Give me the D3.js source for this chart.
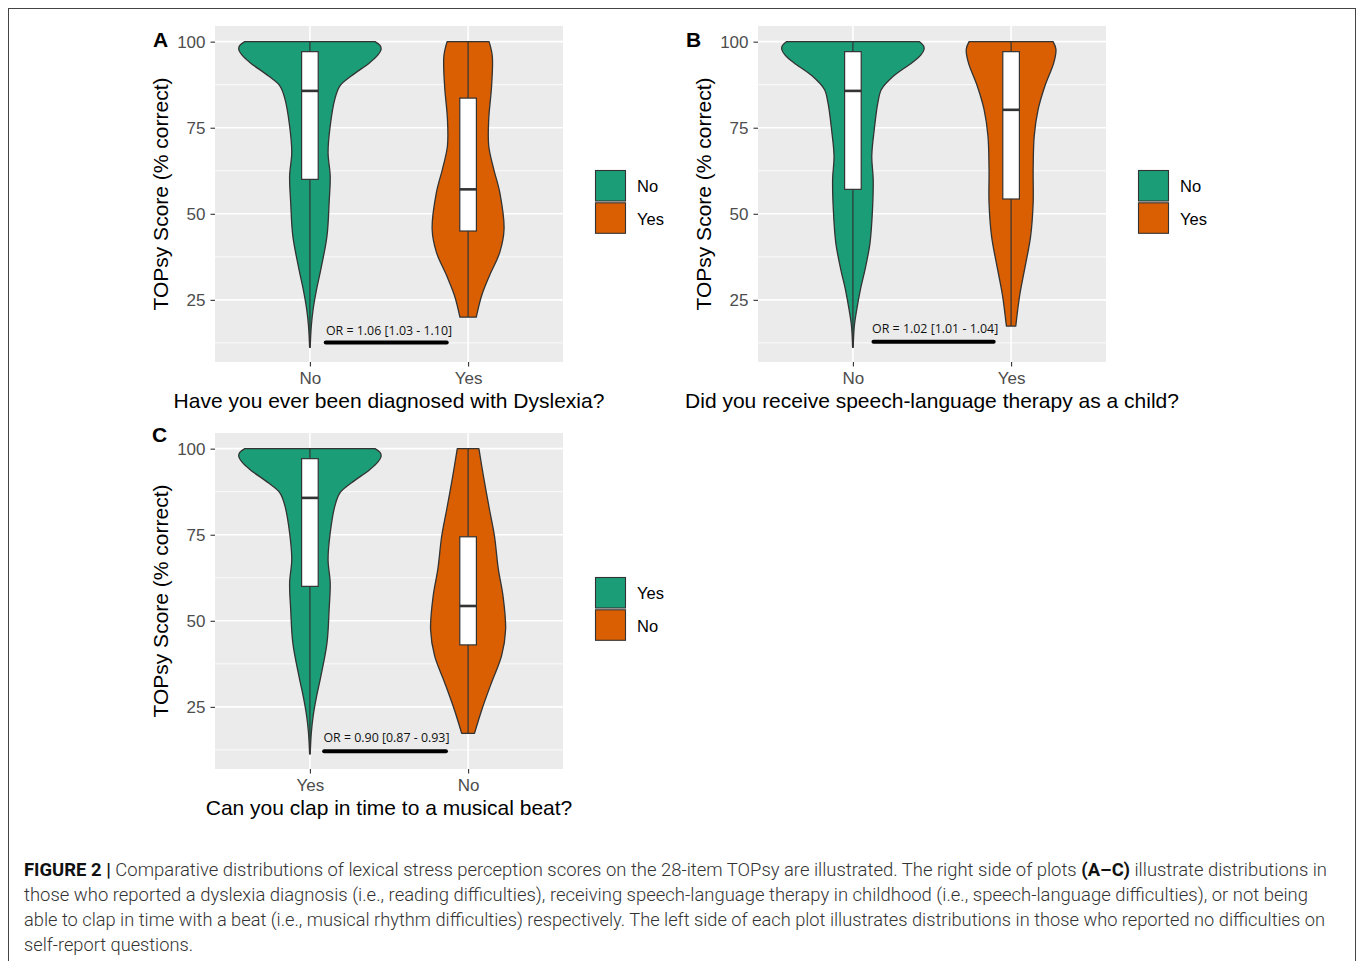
<!DOCTYPE html>
<html><head><meta charset="utf-8">
<script src="https://cdn.jsdelivr.net/npm/d3@7"></script>
<style>body{margin:0;background:#fff}</style>
</head><body>
<svg id="chart" width="1358" height="961"></svg>
<script>
// ---------------- DATA ----------------
const scoreTicks = [25, 50, 75, 100];
const minorTicks = [12.5, 37.5, 62.5, 87.5];
const scoreDomain = [6.95, 104.55];

const panelLetters = ["A", "B", "C"];
const questions = [
  "Have you ever been diagnosed with Dyslexia?",
  "Did you receive speech-language therapy as a child?",
  "Can you clap in time to a musical beat?"
];
const categoriesA = ["No", "Yes"];
const categoriesB = ["No", "Yes"];
const categoriesC = ["Yes", "No"];
const yTitle = "TOPsy Score (% correct)";

// violin profiles: [score, relative half-width (1 = widest violin)]
const violinA1 = [[100,0.915],[98.9,0.985],[97.8,1.0],[96,0.95],[93.9,0.84],[90,0.58],[87.1,0.42],[83.3,0.35],[75.5,0.285],[67.8,0.255],[61,0.285],[53.3,0.27],[43.6,0.24],[34,0.155],[28.2,0.095],[22.4,0.046],[17.5,0.02],[11.2,0.004]];
const violinA2 = [[100,0.295],[95.8,0.34],[87.1,0.33],[77.5,0.29],[69.7,0.29],[63,0.36],[56.2,0.445],[45.5,0.505],[38.8,0.445],[32,0.30],[26.2,0.19],[20,0.115]];
const violinB1 = [[100,0.935],[98.9,0.99],[97.8,1.0],[96,0.95],[93.9,0.83],[90,0.57],[86.1,0.40],[82.2,0.35],[74.5,0.30],[66.7,0.265],[60,0.285],[51.2,0.275],[41.5,0.24],[33.8,0.17],[28,0.105],[22.2,0.054],[17.4,0.02],[11.2,0.004]];
const violinB2 = [[100,0.59],[97.8,0.63],[93.9,0.60],[87.1,0.475],[80.3,0.38],[72.6,0.325],[62.9,0.31],[53.2,0.31],[43.6,0.275],[33.9,0.19],[26.2,0.12],[17.4,0.066]];
const violinC1 = [[100,0.915],[98.9,0.985],[97.8,1.0],[96,0.95],[93.9,0.84],[90,0.58],[87.1,0.42],[83.3,0.35],[75.5,0.285],[67.8,0.255],[61,0.285],[53.3,0.27],[43.6,0.24],[34,0.155],[28.2,0.095],[22.4,0.046],[17.5,0.02],[11.3,0.004]];
const violinC2 = [[100,0.152],[92.1,0.215],[82.4,0.30],[74.7,0.37],[65,0.425],[57.3,0.49],[47.5,0.527],[39.8,0.47],[32.1,0.33],[24.3,0.195],[17.3,0.09]];

// box stats: [min, q1, median, q3, max]
const boxA = [[11.2, 60, 85.7, 97.1, 100], [20, 45, 57.1, 83.6, 100]];
const boxB = [[11.2, 57.1, 85.7, 97.1, 100], [17.4, 54.3, 80.2, 97.1, 100]];
const boxC = [[11.3, 60, 85.7, 97.1, 100], [17.3, 43, 54.3, 74.4, 100]];

// odds-ratio annotations
const orLabels = ["OR = 1.06 [1.03 - 1.10]", "OR = 1.02 [1.01 - 1.04]", "OR = 0.90 [0.87 - 0.93]"];
const orSegX = [[1.10, 1.865], [1.13, 1.89], [1.09, 1.86]];
const orSegY = [12.6, 12.8, 12.1];
const orLabelX = [1.5, 1.52, 1.484];
const orLabelY = [14.9, 15.4, 14.7];

const fillColors = ["#1b9e77", "#d95f02"];

const captionLines = [
  [["FIGURE 2 | ", true], ["Comparative distributions of lexical stress perception scores on the 28-item TOPsy are illustrated. The right side of plots ", false], ["(A–C)", true], [" illustrate distributions in", false]],
  [["those who reported a dyslexia diagnosis (i.e., reading difficulties), receiving speech-language therapy in childhood (i.e., speech-language difficulties), or not being", false]],
  [["able to clap in time with a beat (i.e., musical rhythm difficulties) respectively. The left side of each plot illustrates distributions in those who reported no difficulties on", false]],
  [["self-report questions.", false]]
];

// ---------------- LAYOUT ----------------
const panels = [
  {left: 215, top: 26, letterX: 153, letterY: 47, legendX: 595, legendY: 170, cats: categoriesA, violins: [violinA1, violinA2], boxes: boxA},
  {left: 758, top: 26, letterX: 686, letterY: 47, legendX: 1138, legendY: 170, cats: categoriesB, violins: [violinB1, violinB2], boxes: boxB},
  {left: 215, top: 433, letterX: 152, letterY: 442, legendX: 595, legendY: 577, cats: categoriesC, violins: [violinC1, violinC2], boxes: boxC}
];
const PW = 348, PH = 336;
const axisFont = "'Liberation Sans', Arial, sans-serif";

const svg = d3.select("#chart");

// frame
svg.append("rect").attr("x", 8.5).attr("y", 8.5).attr("width", 1347).attr("height", 1000)
  .attr("fill", "none").attr("stroke", "#444").attr("stroke-width", 1);

panels.forEach((p, i) => {
  const g = svg.append("g");
  const x = d3.scaleLinear().domain([0.4, 2.6]).range([p.left, p.left + PW]);
  const y = d3.scaleLinear().domain(scoreDomain).range([p.top + PH, p.top]);
  const unit = x(1) - x(0);

  g.append("rect").attr("x", p.left).attr("y", p.top).attr("width", PW).attr("height", PH).attr("fill", "#ebebeb");
  g.selectAll(".minor").data(minorTicks).join("line")
    .attr("x1", p.left).attr("x2", p.left + PW).attr("y1", d => y(d)).attr("y2", d => y(d))
    .attr("stroke", "#fff").attr("stroke-width", 0.8);
  g.selectAll(".major").data(scoreTicks).join("line")
    .attr("x1", p.left).attr("x2", p.left + PW).attr("y1", d => y(d)).attr("y2", d => y(d))
    .attr("stroke", "#fff").attr("stroke-width", 1.6);
  g.selectAll(".vmaj").data([1, 2]).join("line")
    .attr("x1", d => x(d)).attr("x2", d => x(d)).attr("y1", p.top).attr("y2", p.top + PH)
    .attr("stroke", "#fff").attr("stroke-width", 1.6);

  // violins
  p.violins.forEach((v, k) => {
    const cx = x(k + 1);
    const area = d3.area()
      .y(d => y(d[0]))
      .x0(d => cx - d[1] * 0.45 * unit)
      .x1(d => cx + d[1] * 0.45 * unit)
      .curve(d3.curveCatmullRom.alpha(0.5));
    g.append("path").datum(v).attr("d", area)
      .attr("fill", fillColors[k]).attr("stroke", "#333").attr("stroke-width", 1.3).attr("stroke-linejoin", "round");
  });

  // boxes
  p.boxes.forEach((b, k) => {
    const cx = x(k + 1), hw = 0.0525 * unit;
    g.append("line").attr("x1", cx).attr("x2", cx).attr("y1", y(b[0])).attr("y2", y(b[4]))
      .attr("stroke", "#333").attr("stroke-width", 1.2);
    g.append("rect").attr("x", cx - hw).attr("width", 2 * hw).attr("y", y(b[3])).attr("height", y(b[1]) - y(b[3]))
      .attr("fill", "#fff").attr("stroke", "#333").attr("stroke-width", 1.2);
    g.append("line").attr("x1", cx - hw).attr("x2", cx + hw).attr("y1", y(b[2])).attr("y2", y(b[2]))
      .attr("stroke", "#333").attr("stroke-width", 2.6);
  });

  // OR annotation
  g.append("line").attr("x1", x(orSegX[i][0])).attr("x2", x(orSegX[i][1]))
    .attr("y1", y(orSegY[i])).attr("y2", y(orSegY[i]))
    .attr("stroke", "#000").attr("stroke-width", 4).attr("stroke-linecap", "round");
  g.append("text").attr("x", x(orLabelX[i])).attr("y", y(orLabelY[i]))
    .attr("text-anchor", "middle").attr("font-family", "'Open Sans', 'Noto Sans', sans-serif")
    .attr("font-size", 12.4).attr("fill", "#111").text(orLabels[i]);

  // y axis
  const ya = g.append("g").attr("transform", `translate(${p.left},0)`)
    .call(d3.axisLeft(y).tickValues(scoreTicks).tickSize(4.5).tickPadding(5));
  ya.select(".domain").remove();
  ya.selectAll(".tick line").attr("stroke", "#333").attr("stroke-width", 1.1);
  ya.selectAll(".tick text").attr("font-family", axisFont).attr("font-size", 17).attr("fill", "#4d4d4d");

  // x axis
  const xa = g.append("g").attr("transform", `translate(0,${p.top + PH})`)
    .call(d3.axisBottom(x).tickValues([1, 2]).tickFormat(d => p.cats[d - 1]).tickSize(4.5).tickPadding(5));
  xa.select(".domain").remove();
  xa.selectAll(".tick line").attr("stroke", "#333").attr("stroke-width", 1.1);
  xa.selectAll(".tick text").attr("font-family", axisFont).attr("font-size", 17).attr("fill", "#4d4d4d");

  // titles
  g.append("text").attr("x", p.left + PW / 2).attr("y", p.top + PH + 46)
    .attr("text-anchor", "middle").attr("font-family", axisFont).attr("font-size", 21).attr("fill", "#000")
    .text(questions[i]);
  g.append("text").attr("transform", `translate(${p.left - 47.5},${p.top + PH / 2}) rotate(-90)`)
    .attr("text-anchor", "middle").attr("font-family", axisFont).attr("font-size", 21).attr("fill", "#000")
    .text(yTitle);
  g.append("text").attr("x", p.letterX).attr("y", p.letterY)
    .attr("font-family", axisFont).attr("font-weight", "bold").attr("font-size", 21).attr("fill", "#000")
    .text(panelLetters[i]);

  // legend
  const lg = g.append("g").attr("transform", `translate(${p.legendX},${p.legendY})`);
  p.cats.forEach((c, k) => {
    lg.append("rect").attr("x", 0.5).attr("y", 0.5 + k * 32.3).attr("width", 30).attr("height", 30.5)
      .attr("fill", fillColors[k]).attr("stroke", "#333").attr("stroke-width", 1.1);
    lg.append("text").attr("x", 42).attr("y", 22.3 + k * 32.3)
      .attr("font-family", axisFont).attr("font-size", 16.5).attr("fill", "#000").text(c);
  });
});

// caption
const capX0 = 24, capEnds = [1327, 1308, 1325, 193], capBase = [876, 901, 926, 951];
captionLines.forEach((line, li) => {
  const t = svg.append("text").attr("x", capX0).attr("y", capBase[li])
    .attr("font-family", "Roboto, 'Liberation Sans', sans-serif").attr("font-size", 17.5)
    .attr("font-weight", 300).attr("fill", "#333")
    .attr("textLength", capEnds[li] - capX0).attr("lengthAdjust", "spacingAndGlyphs");
  line.forEach(([s, b]) => {
    t.append("tspan").attr("font-weight", b ? 700 : 300).attr("fill", b ? "#111" : "#333").text(s);
  });
});
</script>
</body></html>
